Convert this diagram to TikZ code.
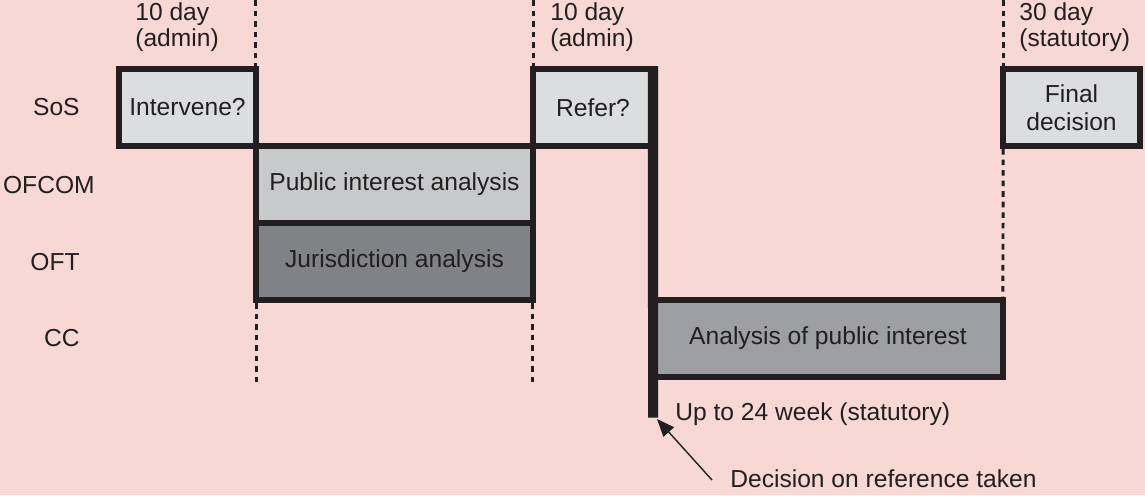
\documentclass[tikz,border=0pt]{standalone}
\usepackage{fontspec}
\setmainfont{Liberation Sans}
\usepackage{tikz}
\usetikzlibrary{arrows.meta,positioning}

\definecolor{bgpink}{RGB}{248,216,212}
\definecolor{inkdark}{RGB}{35,31,32}
\definecolor{lightbox}{RGB}{220,221,223}
\definecolor{midbox}{RGB}{200,201,203}
\definecolor{darkbox}{RGB}{129,130,133}
\definecolor{ccgray}{RGB}{158,159,162}

\tikzset{
  box/.style={draw=inkdark, line width=3.4pt, inner sep=0pt, outer sep=0pt,
              align=center, minimum height=1.54cm, text=inkdark},
  guide/.style={draw=inkdark, line width=1.7pt, dash pattern=on 3.2pt off 2.8pt},
  rowlabel/.style={inner sep=0pt, text=inkdark},
  period/.style={inner sep=0pt, align=left, text=inkdark},
  note/.style={inner sep=0pt, text=inkdark},
}

\begin{document}
\begin{tikzpicture}[x=0.02cm, y=-0.02cm, font=\fontsize{14}{15}\selectfont]

% background and page size
\fill[bgpink] (0,0) rectangle (1145,495);
\useasboundingbox (0,0) rectangle (1145,495);

% ===============================================================
% Periods (top)
% ===============================================================

\node[period, anchor=west] (padmin1) at (135,27) {10 day\\(admin)};
\node[period, anchor=west] (padmin2) at (550,27) {10 day\\(admin)};
\node[period, anchor=west] (pstat)   at (1019,27) {30 day\\(statutory)};

% ===============================================================
% Row labels
% ===============================================================

\node[rowlabel, anchor=east] (lsos)   at (80,107.5) {SoS};
\node[rowlabel, anchor=east] (lofcom) at (95,185)   {OFCOM};
\node[rowlabel, anchor=east] (loft)   at (80,262)   {OFT};
\node[rowlabel, anchor=east] (lcc)    at (80,338.5) {CC};

% ===============================================================
% Boxes
% ===============================================================

% SoS row
\node[box, fill=lightbox, minimum width=2.74cm] (intervene) at (187.5,107.5) {Intervene?};
\node[box, fill=lightbox, minimum width=2.4cm]  (refer)     at (593,107.5)   {Refer?};
\node[box, fill=lightbox, minimum width=2.74cm] (final)     at (1071.5,107.5) {Final\\[1pt]decision};

% OFCOM and OFT rows
\node[box, fill=midbox,  minimum width=5.54cm] (pubint) at (394.5,184.5) {Public interest analysis};
\node[box, fill=darkbox, minimum width=5.54cm] (juris)  at (394.5,261.5) {Jurisdiction analysis};

% CC row
\node[box, fill=ccgray, minimum width=7cm] (ccbox) at (828,338.5) {Analysis of public interest};

% dotted period borders
\draw[guide] (intervene.north east) -- (intervene.north east |- 0,0);
\draw[guide] (refer.north west) -- (refer.north west |- 0,0);
\draw[guide] (final.north west) -- (final.north west |- 0,0);
\draw[guide] (juris.south west) ++(0,3) -- ++(0,80);
\draw[guide] (juris.south east) ++(0,3) -- ++(0,80);
\draw[guide] (final.south west) ++(0,3) -- (ccbox.north east);

% thick bar: reference decision
\coordinate (barend) at (653,417.5);
\draw[inkdark, line width=5.7pt] (refer.north east) ++(0,-3) -- (barend);

% ===============================================================
% Notes
% ===============================================================

\node[note, anchor=base west] (weeks) at (675,420) {Up to 24 week (statutory)};
\node[note, anchor=base west] (dec)   at (730,487) {Decision on reference taken};

\coordinate (dectail) at (712,480);
\coordinate (dectip)  at (657,419);
\draw[inkdark, line width=0.8pt, -{Triangle[length=10pt,width=8pt]}] (dectail) -- (dectip);

\end{tikzpicture}
\end{document}
